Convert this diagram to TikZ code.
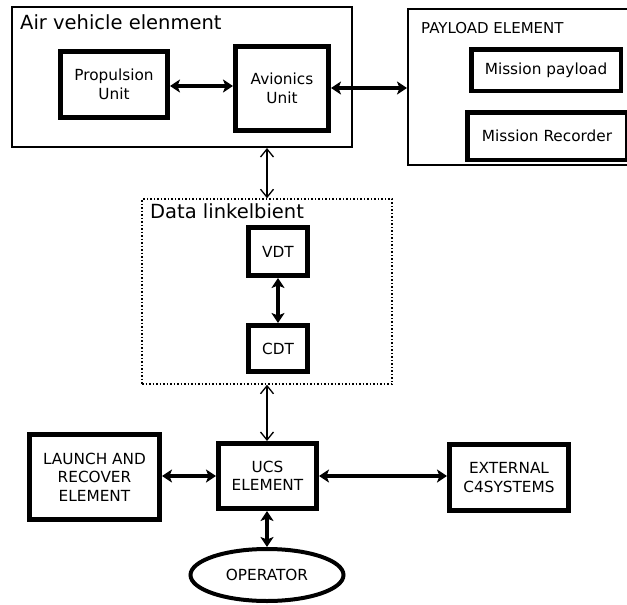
\documentclass[tikz,border=0pt]{standalone}
\usepackage{fontspec}
\setmainfont{DejaVu Sans}
\usetikzlibrary{arrows.meta,shapes.geometric}
\begin{document}
\begin{tikzpicture}[x=1pt,y=-1pt,
  thickbox/.style={draw,line width=5pt,inner sep=0pt,align=center,font=\fontsize{15.3}{18.5}\selectfont},
  outerbox/.style={draw,line width=2pt,inner sep=0pt},
  title/.style={inner sep=0pt,anchor=base west,font=\fontsize{19.5}{22}\selectfont},
  smalltitle/.style={inner sep=0pt,anchor=base west,font=\fontsize{15}{18}\selectfont},
  bigarrow/.style={line width=3.6pt,{Stealth[length=10pt,width=13pt,inset=2.5pt]}-{Stealth[length=10pt,width=13pt,inset=2.5pt]}},
  thinarrow/.style={line width=1.3pt,{Straight Barb[length=8pt,width=13pt]}-{Straight Barb[length=8pt,width=13pt]}}]
\useasboundingbox (0,0) rectangle (627,605);
\fill[white] (0,0) rectangle (627,605);
\clip (0,0) rectangle (627,605);

% Air vehicle element
\node[outerbox,minimum width=340pt,minimum height=140pt] (av) at (182,77) {};
\node[title] (avt) at (20,29) {Air vehicle elenment};
\node[thickbox,minimum width=107pt,minimum height=66pt] (prop) at (114,84.5) {Propulsion\\Unit};
\node[thickbox,minimum width=93pt,minimum height=84pt] (avio) at (282,88.5) {Avionics\\Unit};

% Payload element
\node[outerbox,minimum width=241pt,minimum height=156pt] (pl) at (528.5,87) {};
\node[smalltitle] (plt) at (421,33) {PAYLOAD ELEMENT};
\node[thickbox,line width=4.5pt,minimum width=149.5pt,minimum height=41.5pt] (mp) at (546,70) {Mission payload};
\node[thickbox,line width=4.5pt,minimum width=159.5pt,minimum height=47.5pt] (mr) at (547,136) {Mission Recorder};

% Data link
\node[draw,dotted,line width=1.5pt,inner sep=0pt,minimum width=250pt,minimum height=185pt] (dl) at (267,291.5) {};
\node[title] (dlt) at (150,218) {Data linkelbient};
\node[thickbox,minimum width=59pt,minimum height=48pt] (vdt) at (278,251.5) {VDT};
\node[thickbox,minimum width=59pt,minimum height=46pt] (cdt) at (278,348.5) {CDT};

% Ground
\node[thickbox,minimum width=98pt,minimum height=65pt] (ucs) at (267.5,476) {UCS\\ELEMENT};
\node[thickbox,minimum width=130pt,minimum height=85pt] (lr) at (94.5,477) {LAUNCH AND\\RECOVER\\ELEMENT};
\node[thickbox,minimum width=119pt,minimum height=66pt] (ext) at (509,477.5) {EXTERNAL\\C4SYSTEMS};
\node[draw,ellipse,line width=4pt,inner sep=0pt,minimum width=153pt,minimum height=52pt,font=\fontsize{15.3}{18}\selectfont] (op) at (267,575) {OPERATOR};

% Connectors
\coordinate (a1) at (prop.east |- 0,86);
\coordinate (a2) at (avio.west |- 0,86);
\draw[bigarrow] (a1) -- (a2);
\coordinate (b1) at (avio.east |- 0,88);
\coordinate (b2) at (pl.west |- 0,88);
\draw[bigarrow] (b1) -- (b2);
\coordinate (c1) at (av.south -| 267,0);
\coordinate (c2) at (dl.north -| 267,0);
\draw[thinarrow] (c1) -- (c2);
\draw[bigarrow] (vdt) -- (cdt);
\coordinate (d1) at (dl.south -| 267,0);
\coordinate (d2) at (ucs.north -| 267,0);
\draw[thinarrow] (d1) -- (d2);
\draw[bigarrow] (lr.east |- ucs) -- (ucs.west);
\draw[bigarrow] (ucs.east) -- (ext.west |- ucs);
\coordinate (e1) at (ucs.south -| 267,0);
\draw[bigarrow] (e1) -- (op.north);
\end{tikzpicture}
\end{document}
